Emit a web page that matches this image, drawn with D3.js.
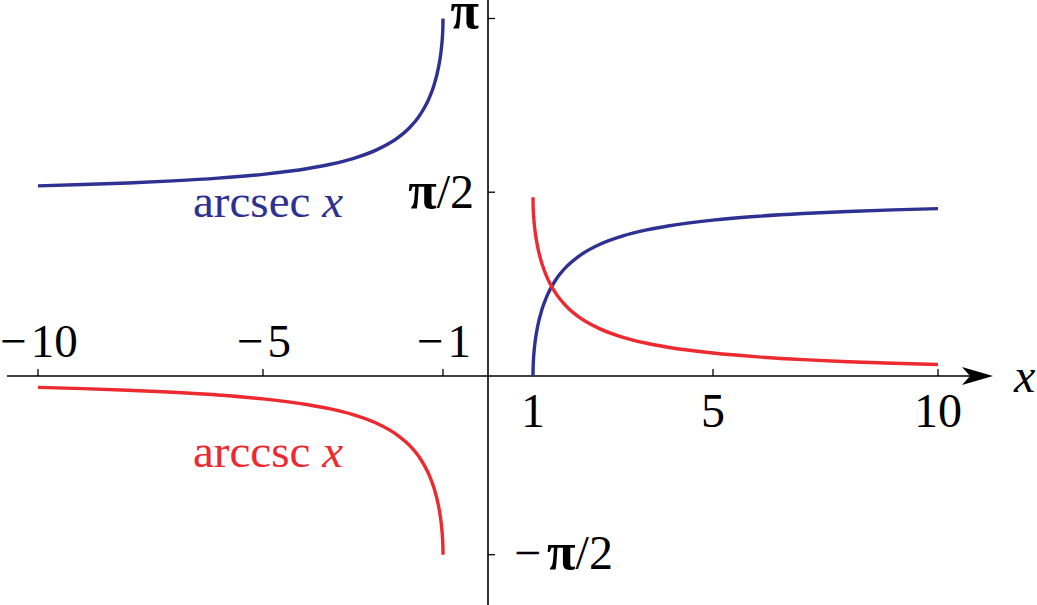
<!DOCTYPE html>
<html><head><meta charset="utf-8">
<script src="https://cdn.jsdelivr.net/npm/d3@7"></script>
<style>html,body{margin:0;padding:0;background:#fff;overflow:hidden}</style>
</head><body>
<svg id="chart" width="1037" height="605"></svg>
<script>
// ---- data ----
const xPos = [1, 1.001, 1.005, 1.01, 1.02, 1.05, 1.1, 1.2, 1.3, 1.5, 1.75, 2, 2.5, 3, 3.5, 4, 5, 6, 7, 8, 9, 10];
const arcsecPos = [0, 0.0447, 0.0998, 0.1408, 0.1984, 0.3098, 0.4298, 0.5857, 0.6932, 0.8411, 0.9626, 1.0472, 1.1593, 1.2310, 1.2810, 1.3181, 1.3694, 1.4033, 1.4274, 1.4455, 1.4595, 1.4706];
const arccscPos = [1.5708, 1.5261, 1.4710, 1.4300, 1.3724, 1.2610, 1.1410, 0.9851, 0.8776, 0.7297, 0.6082, 0.5236, 0.4115, 0.3398, 0.2898, 0.2527, 0.2014, 0.1674, 0.1433, 0.1253, 0.1113, 0.1002];
const xNeg = [-10, -9, -8, -7, -6, -5, -4, -3.5, -3, -2.5, -2, -1.75, -1.5, -1.3, -1.2, -1.1, -1.05, -1.02, -1.01, -1.005, -1.001, -1];
const arcsecNeg = [1.6710, 1.6821, 1.6961, 1.7142, 1.7383, 1.7722, 1.8235, 1.8606, 1.9106, 1.9823, 2.0944, 2.1790, 2.3005, 2.4484, 2.5559, 2.7118, 2.8318, 2.9432, 3.0008, 3.0418, 3.0969, 3.1416];
const arccscNeg = [-0.1002, -0.1113, -0.1253, -0.1433, -0.1674, -0.2014, -0.2527, -0.2898, -0.3398, -0.4115, -0.5236, -0.6082, -0.7297, -0.8776, -0.9851, -1.1410, -1.2610, -1.3724, -1.4300, -1.4710, -1.5261, -1.5708];

const xTicksTop = [-10, -5, -1];
const xTickLabelsTop = ["10", "5", "1"];      // shown with a leading minus sign
const xTicksBottom = [1, 5, 10];
const xTickLabelsBottom = ["1", "5", "10"];
const yTicks = [3.1416, 1.615, -1.5708];
const yTickLabels = [["", "\u03c0", ""], ["", "\u03c0", "/2"], ["\u2212", "\u03c0", "/2"]];
const seriesNames = ["arcsec", "arccsc"];

// ---- drawing ----
const svg = d3.select("#chart");
const x = d3.scaleLinear().domain([-10, 10]).range([38, 938]);
const y = d3.scaleLinear().domain([-1.5708, 3.1416]).range([554.7, 18.5]);
const blue = "#2e3192", red = "#ec2a2f";
const font = "'Liberation Serif','Times New Roman',serif";
const fs = 47;

const x0 = x(0), y0 = y(0);
// axes
svg.append("line").attr("x1", 7).attr("x2", 975).attr("y1", y0).attr("y2", y0)
  .attr("stroke", "#000").attr("stroke-width", 1.6);
svg.append("path")
  .attr("d", `M993,${y0} L962,${y0-9} L970,${y0} L962,${y0+9} Z`)
  .attr("fill", "#000");
svg.append("line").attr("x1", x0).attr("x2", x0).attr("y1", 0).attr("y2", 605)
  .attr("stroke", "#000").attr("stroke-width", 1.6);

// x ticks
const allXT = xTicksTop.concat(xTicksBottom);
svg.selectAll(".xt").data(allXT).enter().append("line")
  .attr("x1", d => x(d)).attr("x2", d => x(d)).attr("y1", y0 - 7).attr("y2", y0)
  .attr("stroke", "#000").attr("stroke-width", 1.3);
const topLabs = svg.selectAll(".xlt").data(xTicksTop).enter().append("text")
  .attr("x", d => x(d) + 1).attr("y", 357).attr("text-anchor", "middle")
  .attr("font-family", font).attr("font-size", fs);
topLabs.append("tspan").text("\u2212");
topLabs.append("tspan").attr("dx", 4).text((d, i) => xTickLabelsTop[i]);
svg.selectAll(".xlb").data(xTicksBottom).enter().append("text")
  .attr("x", d => x(d)).attr("y", 427).attr("text-anchor", "middle")
  .attr("font-family", font).attr("font-size", 48).text((d, i) => xTickLabelsBottom[i]);
svg.append("text").attr("x", 1014).attr("y", 392).attr("font-family", font)
  .attr("font-style", "italic").attr("font-size", 48).text("x");

// y ticks
svg.selectAll(".yt").data(yTicks).enter().append("line")
  .attr("x1", x0).attr("x2", x0 + 7).attr("y1", d => y(d)).attr("y2", d => y(d))
  .attr("stroke", "#000").attr("stroke-width", 1.3);
const yLabPos = [{x: 479, dy: 9, a: "end"}, {x: 474, dy: 16, a: "end"}, {x: 514, dy: 14, a: "start"}];
const yl = svg.selectAll(".ylt").data(yTicks).enter().append("text")
  .attr("x", (d, i) => yLabPos[i].x).attr("y", (d, i) => y(d) + yLabPos[i].dy)
  .attr("text-anchor", (d, i) => yLabPos[i].a)
  .attr("font-family", font).attr("font-size", 48);
yl.append("tspan").text((d, i) => yTickLabels[i][0]);
yl.append("tspan").attr("dx", (d, i) => yTickLabels[i][0] ? 6 : 0)
  .attr("font-weight", "bold").attr("font-size", 52).text((d, i) => yTickLabels[i][1]);
yl.append("tspan").text((d, i) => yTickLabels[i][2]);

// curves
const line = d3.line().x(d => x(d[0])).y(d => y(d[1])).curve(d3.curveMonotoneX);
const draw = (xs, ys, col) => svg.append("path").datum(xs.map((v, i) => [v, ys[i]]))
  .attr("d", line).attr("fill", "none").attr("stroke", col).attr("stroke-width", 3.4)
  .attr("stroke-linecap", "butt");
draw(xNeg, arcsecNeg, blue);
draw(xPos, arcsecPos, blue);
draw(xNeg, arccscNeg, red);
draw(xPos, arccscPos, red);

// series labels
const lab = (t, yy, col) => {
  const tx = svg.append("text").attr("x", 193).attr("y", yy).attr("font-family", font)
    .attr("font-size", 47).attr("fill", col);
  tx.append("tspan").text(t + " ");
  tx.append("tspan").attr("font-style", "italic").text("x");
};
lab(seriesNames[0], 217, blue);
lab(seriesNames[1], 467, red);
</script>
</body></html>
